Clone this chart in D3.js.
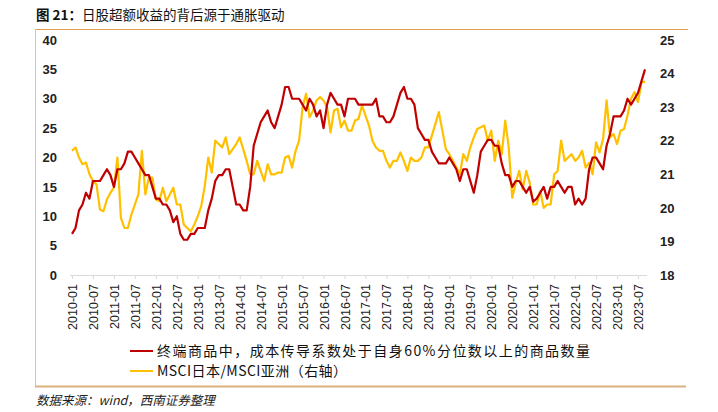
<!DOCTYPE html>
<html>
<head>
<meta charset="utf-8">
<script src="https://cdn.jsdelivr.net/npm/d3@7"></script>
<style>
  body { margin: 0; background: #fff; }
  svg { display: block; font-family: "Liberation Sans", Arial, sans-serif; }
</style>
</head>
<body>
<svg id="chart"></svg>
<script>
// monthly series, 2010-01 .. 2023-09
const redValues = [
  7, 8, 11, 12, 14, 13, 16, 16, 16, 17,
  18, 17, 15, 18, 18, 19, 21, 21, 20, 19,
  18, 17, 17, 15, 13, 13, 12, 12, 11, 9,
  10, 7, 6, 6, 7, 7, 8, 8, 8, 11,
  13, 16, 17, 17, 18, 18, 15, 12, 12, 11,
  11, 15, 22, 24, 26, 27, 28, 26, 25, 27,
  29, 32, 32, 30, 30, 30, 29, 28, 30, 29,
  27, 28, 25, 29, 31, 30, 29, 29, 27, 30,
  30, 30, 29, 29, 29, 29, 29, 30, 27, 27,
  26, 26, 27, 29, 31, 32, 30, 30, 29, 25,
  24, 23, 23, 21, 20, 19, 19, 19, 20, 19,
  18, 16, 18, 18, 16, 14, 17, 21, 22, 23,
  23, 22, 22, 19, 17, 17, 15, 16, 16, 15,
  14, 15, 12.5, 13, 14, 15, 13, 15, 15, 16,
  15, 14, 15, 15, 12, 13, 12, 13, 18, 20,
  20, 19, 18, 22, 24, 27, 27, 27, 28, 30,
  29, 30, 31, 33, 35
];

const yellowValues = [
  21.7, 21.8, 21.5, 21.3, 21.35, 21.0, 20.8, 20.7, 19.95, 19.9,
  20.25, 20.45, 20.6, 21.5, 19.7, 19.4, 19.4, 19.8, 20.1, 20.4,
  21.7, 20.4, 20.9, 20.9, 20.25, 20.2, 20.6, 20.2, 20.4, 20.6,
  20.1, 20.1, 19.5, 19.4, 19.3, 19.5, 19.75, 20.05, 20.65, 21.5,
  21.05, 22.0, 21.9, 21.8, 22.1, 21.6, 21.75, 21.9, 22.1, 21.75,
  21.4, 21.0, 21.0, 21.4, 21.1, 20.8, 21.3, 21.0, 21.0, 21.05,
  21.05, 21.5, 21.55, 21.2, 21.7, 22.0, 23.0, 23.4, 22.7, 22.9,
  23.2, 23.3, 23.2, 23.0, 22.25, 22.9, 22.95, 22.4, 22.6, 22.3,
  22.3, 22.6, 22.65, 23.05, 22.75, 22.45, 22.0, 21.8, 21.7, 21.7,
  21.4, 21.2, 21.4, 21.4, 21.65, 21.4, 21.1, 21.5, 21.4, 21.4,
  21.5, 21.8, 21.8, 22.15, 22.5, 22.85, 22.3, 21.75, 21.6, 21.4,
  21.2, 21.0, 21.6, 21.4, 21.8, 22.1, 22.35, 22.4, 22.45, 22.0,
  22.3, 21.4, 22.0, 21.6, 22.6, 21.8, 20.3, 20.75, 21.1, 20.55,
  21.1, 20.75, 20.1, 20.1, 20.5, 20.0, 20.1, 20.1, 21.0, 21.1,
  22.0, 21.4, 21.5, 21.6, 21.4, 21.5, 21.7, 21.2, 21.35, 21.0,
  21.95, 21.65, 22.05, 23.2, 22.1, 22.2, 21.9, 22.3, 22.35, 22.75,
  23.25, 23.45, 23.15, 23.75, 23.75
];

const xTickLabels = [
  "2010-01", "2010-07", "2011-01", "2011-07", "2012-01", "2012-07",
  "2013-01", "2013-07", "2014-01", "2014-07", "2015-01", "2015-07",
  "2016-01", "2016-07", "2017-01", "2017-07", "2018-01", "2018-07",
  "2019-01", "2019-07", "2020-01", "2020-07", "2021-01", "2021-07",
  "2022-01", "2022-07", "2023-01", "2023-07"
];
const leftTicks = [0, 5, 10, 15, 20, 25, 30, 35, 40];
const rightTicks = [18, 19, 20, 21, 22, 23, 24, 25];

const titleText = "日股超额收益的背后源于通胀驱动";
const redLabel = "终端商品中，成本传导系数处于自身60%分位数以上的商品数量";
const yellowLabel = "MSCI日本/MSCI亚洲（右轴）";
const sourceText = "数据来源：wind，西南证券整理";

// month categories
const months = [];
for (let y = 2010; y <= 2023; y++) {
  for (let m = 1; m <= 12; m++) {
    if (months.length < redValues.length) months.push(y + "-" + String(m).padStart(2, "0"));
  }
}

const W = 718, H = 412;
const svg = d3.select("#chart").attr("width", W).attr("height", H);

const red = "#c00000", yellow = "#ffc000";

// frame
svg.append("line").attr("x1", 35).attr("x2", 688).attr("y1", 29.5).attr("y2", 29.5)
  .attr("stroke", "#e2a04a").attr("stroke-width", 1);
svg.append("line").attr("x1", 35.5).attr("x2", 35.5).attr("y1", 29).attr("y2", 386)
  .attr("stroke", "#c8c8c8").attr("stroke-width", 1);
svg.append("line").attr("x1", 35).attr("x2", 686).attr("y1", 386.5).attr("y2", 386.5)
  .attr("stroke", "#d9b27e").attr("stroke-width", 2);

// title
const title = svg.append("text").attr("x", 36).attr("y", 19.5)
  .attr("font-size", 13.5).attr("fill", "#111")
  .attr("font-family", "'Noto Sans CJK SC', 'Liberation Sans', sans-serif");
title.append("tspan").attr("font-weight", "bold").text("图 21：");
title.append("tspan").text(titleText);

// scales
const x = d3.scalePoint().domain(months).range([72, 645]);
const yLeft = d3.scaleLinear().domain([0, 40]).range([275, 40]);
const yRight = d3.scaleLinear().domain([18, 25]).range([275, 40]);

// x axis
const xAxis = d3.axisBottom(x).tickValues(xTickLabels).tickSize(4).tickSizeOuter(0);
const gx = svg.append("g").attr("transform", "translate(0,275)").call(xAxis);
gx.select(".domain").attr("stroke", "#d9d9d9").attr("d", "M70,0.5H647");
gx.selectAll(".tick line").attr("stroke", "#d9d9d9");
gx.selectAll(".tick text")
  .attr("transform", "rotate(-90)")
  .attr("text-anchor", "end")
  .attr("x", -9).attr("y", 0).attr("dy", "0.36em")
  .attr("font-size", 12.5).attr("fill", "#222")
  .attr("font-family", "'Liberation Sans', Arial, sans-serif");

// left axis
const gl = svg.append("g").attr("transform", "translate(57,0)")
  .call(d3.axisLeft(yLeft).tickValues(leftTicks).tickFormat(d3.format("d")).tickSize(0).tickPadding(0));
gl.select(".domain").remove();
gl.selectAll("text").attr("font-size", 13).attr("font-weight", "bold").attr("fill", "#222")
  .attr("font-family", "'Liberation Sans', Arial, sans-serif");

// right axis
const gr = svg.append("g").attr("transform", "translate(660,0)")
  .call(d3.axisRight(yRight).tickValues(rightTicks).tickFormat(d3.format("d")).tickSize(0).tickPadding(0));
gr.select(".domain").remove();
gr.selectAll("text").attr("font-size", 13).attr("font-weight", "bold").attr("fill", "#222")
  .attr("font-family", "'Liberation Sans', Arial, sans-serif");

// lines
const redLine = d3.line().x((d, i) => x(months[i])).y(d => yLeft(d));
const yellowLine = d3.line().x((d, i) => x(months[i])).y(d => yRight(d));

svg.append("path").datum(yellowValues).attr("d", yellowLine)
  .attr("fill", "none").attr("stroke", yellow).attr("stroke-width", 2.2)
  .attr("stroke-linejoin", "round");
svg.append("path").datum(redValues).attr("d", redLine)
  .attr("fill", "none").attr("stroke", red).attr("stroke-width", 2.2)
  .attr("stroke-linejoin", "round");

// legend
const legend = [
  { label: redLabel, color: red, y: 351, len: 433 },
  { label: yellowLabel, color: yellow, y: 371, len: 190 }
];
const lg = svg.append("g");
legend.forEach(d => {
  lg.append("line").attr("x1", 130).attr("x2", 153).attr("y1", d.y).attr("y2", d.y)
    .attr("stroke", d.color).attr("stroke-width", 2);
  lg.append("text").attr("x", 157).attr("y", d.y).attr("dy", "0.36em")
    .attr("font-size", 14).attr("fill", "#111")
    .attr("font-family", "'Noto Sans CJK SC', 'Liberation Sans', sans-serif")
    .attr("textLength", d.len).attr("lengthAdjust", "spacing")
    .text(d.label);
});

// source
svg.append("text").attr("x", 36).attr("y", 405)
  .attr("font-size", 12.5).attr("font-style", "italic").attr("fill", "#222")
  .attr("font-family", "'Noto Sans CJK SC', 'Liberation Sans', sans-serif")
  .text(sourceText);
</script>
</body>
</html>
